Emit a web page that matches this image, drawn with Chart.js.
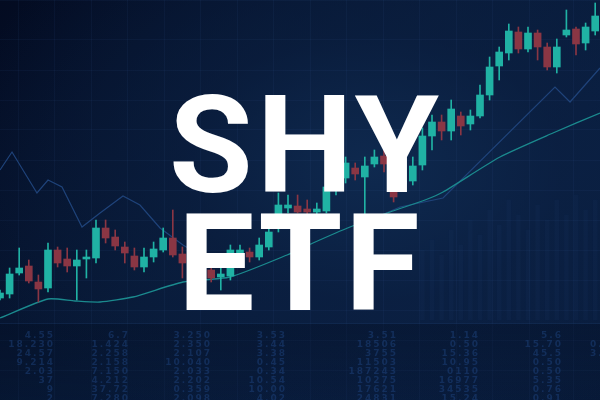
<!DOCTYPE html>
<html>
<head>
<meta charset="utf-8">
<script src="https://cdn.jsdelivr.net/npm/chart.js@4"></script>
<style>
  html, body { margin: 0; padding: 0; background: #050f26; }
  #wrap {
    position: relative; width: 600px; height: 400px; overflow: hidden;
    background:
      radial-gradient(ellipse 70% 75% at 62% 42%, rgba(15,42,80,0.95) 0%, rgba(11,32,66,0.6) 45%, rgba(5,16,38,0) 100%),
      linear-gradient(135deg, #030b21 0%, #081a38 45%, #0a1f42 75%, #091c3c 100%);
  }
  #chart { position: absolute; left: 0; top: 0; }
  .title {
    position: absolute; left: 0; width: 600px; text-align: center;
    font-family: Roboto, "Liberation Sans", sans-serif; font-weight: 700;
    font-size: 136px; line-height: 136px; color: #ffffff; white-space: nowrap;
  }
  #table {
    position: absolute; left: 0; top: 323px; width: 600px; height: 77px;
    border-top: 1px solid rgba(40, 80, 140, 0.22);
    background: linear-gradient(180deg, rgba(4,14,34,0.35), rgba(4,14,34,0.15));
    filter: blur(0.5px);
  }
  .col {
    position: absolute; top: 7px; text-align: right;
    font-family: "DejaVu Sans", sans-serif; font-weight: 700;
    font-size: 9px; line-height: 9px; letter-spacing: 2px;
    color: rgba(40, 84, 152, 0.36); white-space: pre;
  }
</style>
</head>
<body>
<div id="wrap">
  <canvas id="chart" width="600" height="400"></canvas>
  <div class="title" id="t1" style="top:78px;left:6px;letter-spacing:4px">SHY</div>
  <div class="title" id="t2" style="top:196px;left:0;letter-spacing:2.5px">ETF</div>
  <div id="table"></div>
</div>
<script>
// candles, left to right (price units)
var open  = [102,106,127,134,118,112,150,141,134,141,142,172,163,153,144,133,143,150,162,146,
             138,132,130,123,124,147,148,143,153,172,192,194,191,188,189,210,222,232,223,236,
             244,220,216,219,235,264,278,269,284,276,284,305,334,347,368,351,367,353,333,365,
             371,357,369];
var close = [107,126,132,119,111,150,137,134,140,143,172,162,154,147,133,143,151,162,145,137,
             130,124,122,126,150,150,143,155,168,195,195,188,188,191,213,224,237,226,234,243,
             236,203,219,234,264,278,269,291,274,284,305,333,348,369,351,367,353,333,353,370,
             356,373,384];
var high  = [110,132,152,140,125,157,153,152,150,150,180,180,170,158,152,152,158,172,190,153,
             145,138,135,135,155,155,152,162,177,207,205,205,200,197,223,230,243,237,243,250,
             250,222,225,243,272,285,285,300,288,290,315,343,353,376,373,373,370,357,361,390,
             373,377,397];
var low   = [100,102,125,117, 98,108,133,128,100,122,137,157,150,137,130,128,138,148,143,122,
             120,116,118,110,120,142,138,140,150,168,187,187,186,186,187,205,217,220,180,233,
             228,198,210,215,230,250,260,260,265,270,282,300,320,340,347,348,340,330,327,363,
             345,350,365];

// faint volume columns on the right
var volIndex = [44,45,46,47,48,49,50,51,52,53,54,55,56,57,58,59,60,61,62];
var volTop   = [150,160,145,170,155,180,165,190,175,200,185,170,195,180,200,185,205,190,200];
var volBase  = 80;

// moving average lines: x = candle index, y = price (null = hidden gap)
var blueX = [0, 1.25, 3.85, 5.0, 6.46, 8.54, 10.42, 12.81, 14.58, 16.67, 19.06, 20.3, 29,
             38.54, 41.67, 46.15, 57.81, 59.38, 62.5];
var blueY = [230, 248, 207, 220, 213, 173, 187, 204, 195, 172, 155, 148, null,
             180, 193, 202, 313, 298, 332];
var tealX = [0, 5.0, 7.81, 10.42, 13.85, 19.06, 23.96, 29.9, 32.6, 36.46, 40.63, 44.27, 46.15,
             52.08, 57.6, 62.5];
var tealY = [82, 101, 99, 98, 103, 118, 123, 145, 157, 173, 188, 200, 208, 243, 267, 287];

// ticker table at the bottom
var tableCols = [
  ['4.55', '18.230', '24.57', '9.214', '2.03', '37', '9', '2'],
  ['6.7', '1.424', '2.258', '2.158', '7.150', '4.212', '37.72', '7.280'],
  ['3.250', '2.350', '2.107', '10.040', '2.033', '2.202', '0.359', '2.098'],
  ['3.53', '3.44', '3.38', '0.45', '0.34', '10.54', '10.00', '4.02'],
  ['3.51', '18506', '3755', '11503', '187243', '10275', '17621', '24831'],
  ['1.14', '0.50', '15.36', '10.95', '0110', '16977', '34535', '15.24'],
  ['5.6', '15.70', '45.5', '0.50', '0.50', '5.35', '0.76', '0.91'],
  ['', '0.3', '3.1', '', '', '', '', '']
];

var UP = '#20b2a4', DOWN = '#8a3644';

// table columns (right edges in px)
var colRight = [55, 130, 212, 287, 398, 480, 563, 612];
var tbl = document.getElementById('table');
tableCols.forEach(function (rows, c) {
  var d = document.createElement('div');
  d.className = 'col';
  d.style.right = (600 - colRight[c]) + 'px';
  d.textContent = rows.join('\n');
  tbl.appendChild(d);
});

var bodies = [], wicks = [], colors = [];
for (var i = 0; i < open.length; i++) {
  bodies.push({ x: i, y: [open[i], close[i]] });
  wicks.push({ x: i, y: [low[i], high[i]] });
  colors.push(close[i] >= open[i] ? UP : DOWN);
}
var vols = volIndex.map(function (v, k) { return { x: v, y: [volBase, volTop[k]] }; });
var bluePts = blueX.map(function (v, k) { return { x: v, y: blueY[k] }; });
var tealPts = tealX.map(function (v, k) { return { x: v, y: tealY[k] }; });

new Chart(document.getElementById('chart').getContext('2d'), {
  type: 'bar',
  data: {
    datasets: [
      { label: 'Volume', data: vols, backgroundColor: 'rgba(60,110,180,0.045)',
        barThickness: 4, grouped: false, order: 6 },
      { label: 'MA long', type: 'line', data: bluePts, borderColor: '#1f437a',
        borderWidth: 1.2, pointRadius: 0, tension: 0, spanGaps: false, order: 4 },
      { label: 'MA short', type: 'line', data: tealPts, borderColor: '#1b8a8e',
        borderWidth: 1.3, pointRadius: 0, tension: 0.2, order: 3 },
      { label: 'Wicks', data: wicks, backgroundColor: colors,
        barThickness: 1, grouped: false, order: 2 },
      { label: 'Bodies', data: bodies, backgroundColor: colors,
        barThickness: 7, grouped: false, order: 1 }
    ]
  },
  options: {
    responsive: false,
    animation: false,
    layout: { padding: 0 },
    plugins: { legend: { display: false }, tooltip: { enabled: false } },
    scales: {
      x: { type: 'linear', min: 0, max: 62.5, offset: false,
        border: { display: false }, ticks: { display: false },
        grid: { display: false, drawTicks: false } },
      y: { min: 0, max: 400, border: { display: false },
        ticks: { display: false, stepSize: 30 },
        grid: { color: 'rgba(70,120,190,0.07)', drawTicks: false } },
      gx: { type: 'linear', axis: 'x', position: 'bottom', min: 0, max: 600, offset: false,
        border: { display: false },
        ticks: { display: false, stepSize: 36.5 },
        grid: { color: 'rgba(70,120,190,0.07)', drawTicks: false } }
    }
  }
});
</script>
</body>
</html>
